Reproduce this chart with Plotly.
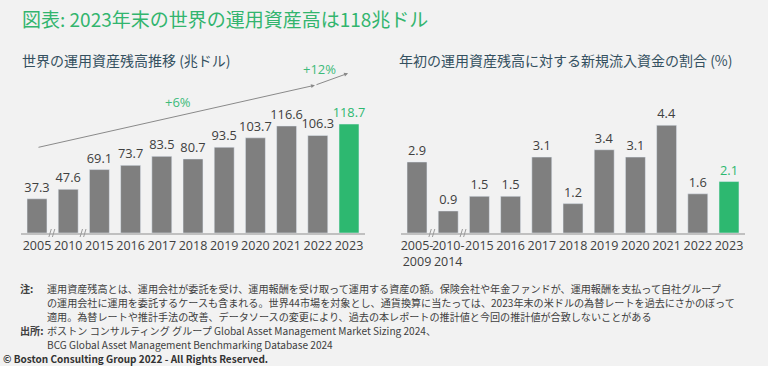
import plotly.graph_objects as go

# ---- data ----
aum_years = ["2005", "2010", "2015", "2016", "2017", "2018", "2019", "2020", "2021", "2022", "2023"]
aum_values = [37.3, 47.6, 69.1, 73.7, 83.5, 80.7, 93.5, 103.7, 116.6, 106.3, 118.7]
flow_periods = ["2005-<br>2009", "2010-<br>2014", "2015", "2016", "2017", "2018", "2019", "2020", "2021", "2022", "2023"]
flow_values = [2.9, 0.9, 1.5, 1.5, 3.1, 1.2, 3.4, 3.1, 4.4, 1.6, 2.1]
growth_labels = ["+6%", "+12%"]

title_text = "図表: 2023年末の世界の運用資産高は118兆ドル"
left_title = "世界の運用資産残高推移 (兆ドル)"
right_title = "年初の運用資産残高に対する新規流入資金の割合 (%)"
note_lines = [
    "運用資産残高とは、運用会社が委託を受け、運用報酬を受け取って運用する資産の額。保険会社や年金ファンドが、運用報酬を支払って自社グループ",
    "の運用会社に運用を委託するケースも含まれる。世界44市場を対象とし、通貨換算に当たっては、2023年末の米ドルの為替レートを過去にさかのぼって",
    "適用。為替レートや推計手法の改善、データソースの変更により、過去の本レポートの推計値と今回の推計値が合致しないことがある",
]
source_lines = [
    "ボストン コンサルティング グループ Global Asset Management Market Sizing 2024、",
    "BCG Global Asset Management Benchmarking Database 2024",
]
copyright_text = "© Boston Consulting Group 2022 - All Rights Reserved."

# ---- style ----
W, H = 768, 366
GRAY = "#7f7f7f"
GREEN = "#2db870"
TXT = "#404040"
BG = "#f2f2f2"
FONT = "Open Sans, Noto Sans CJK JP, sans-serif"
JFONT = "Noto Sans CJK JP, sans-serif"

def px(x):
    return x / W

def py(y):
    return 1 - y / H

colors_aum = [GRAY] * (len(aum_values) - 1) + [GREEN]
colors_flow = [GRAY] * (len(flow_values) - 1) + [GREEN]
tc_aum = [TXT] * (len(aum_values) - 1) + [GREEN]
tc_flow = [TXT] * (len(flow_values) - 1) + [GREEN]

fig = go.Figure()
fig.add_trace(go.Bar(
    x=aum_years, y=aum_values, marker_color=colors_aum,
    text=[f"{v:.1f}" for v in aum_values], textposition="outside", constraintext="none",
    textfont=dict(family=FONT, size=12.8, color=tc_aum), cliponaxis=False,
    xaxis="x", yaxis="y", showlegend=False, hoverinfo="skip",
))
fig.add_trace(go.Bar(
    x=flow_periods, y=flow_values, marker_color=colors_flow,
    text=[f"{v:.1f}" for v in flow_values], textposition="outside", constraintext="none",
    textfont=dict(family=FONT, size=12.8, color=tc_flow), cliponaxis=False,
    xaxis="x2", yaxis="y2", showlegend=False, hoverinfo="skip",
))

ydom = [py(233), py(58.6)]
axis_common = dict(showline=True, linecolor="#c0c0c0", linewidth=2, ticks="", tickangle=0,
                   tickfont=dict(family=FONT, size=12.5, color=TXT), showgrid=False,
                   zeroline=False, fixedrange=True)
fig.update_layout(
    width=W, height=H, margin=dict(l=0, r=0, t=0, b=0),
    paper_bgcolor=BG, plot_bgcolor=BG, bargap=0.36,
    font=dict(family=FONT, color=TXT),
    xaxis=dict(domain=[px(21.4), px(364.6)], anchor="y", type="category", **axis_common),
    yaxis=dict(domain=ydom, range=[0, 190], visible=False, fixedrange=True),
    xaxis2=dict(domain=[px(401.4), px(744.6)], anchor="y2", type="category", **axis_common),
    yaxis2=dict(domain=ydom, range=[0, 7.12], visible=False, fixedrange=True),
)

ann = []
# titles
ann.append(dict(text=title_text, x=px(20), y=py(19), xref="paper", yref="paper",
                xanchor="left", yanchor="middle", showarrow=False,
                font=dict(family=JFONT, size=19, color="#32b56e")))
ann.append(dict(text=left_title, x=px(20), y=py(60), xref="paper", yref="paper",
                xanchor="left", yanchor="middle", showarrow=False,
                font=dict(family=JFONT, size=14, color="#34505f")))
ann.append(dict(text=right_title, x=px(397), y=py(60), xref="paper", yref="paper",
                xanchor="left", yanchor="middle", showarrow=False,
                font=dict(family=JFONT, size=14, color="#34505f")))

# growth arrows (data coordinates of the left chart)
ann.append(dict(x=8.91, y=161, ax=0, ay=93, xref="x", yref="y", axref="x", ayref="y",
                showarrow=True, arrowhead=2, arrowsize=0.8, arrowwidth=1, arrowcolor="#8a8a8a", text=""))
ann.append(dict(x=9.97, y=174, ax=8.91, ay=161, xref="x", yref="y", axref="x", ayref="y",
                showarrow=True, arrowhead=2, arrowsize=0.8, arrowwidth=1, arrowcolor="#8a8a8a", text=""))
ann.append(dict(x=4.52, y=143, xref="x", yref="y", text=growth_labels[0], showarrow=False,
                font=dict(family=FONT, size=13, color="#3dbb7a")))
ann.append(dict(x=9.07, y=178.5, xref="x", yref="y", text=growth_labels[1], showarrow=False,
                font=dict(family=FONT, size=13, color="#3dbb7a")))

# axis break marks "//" as short slanted strokes
shapes = []
slash_dx = 1 / 31.2  # one pixel in category units
for xr in ("x", "x2"):
    for pos in (0.5, 1.5):
        for off in (-2.5, 1.0):
            shapes.append(dict(type="line", xref=xr, yref="paper",
                               x0=pos + (off - 1.2) * slash_dx, x1=pos + (off + 1.2) * slash_dx,
                               y0=py(237), y1=py(229),
                               line=dict(color="#9a9a9a", width=1)))

# footnotes
foot_font = dict(family=JFONT, size=10.1, color=TXT)
def foot(text, x, y, font=foot_font):
    ann.append(dict(text=text, x=px(x), y=py(y), xref="paper", yref="paper",
                    xanchor="left", yanchor="middle", align="left", showarrow=False,
                    borderpad=0, font=font))

foot("<b>注:</b>", 19, 288.5)
for i, line in enumerate(note_lines):
    foot(line, 46, 288.5 + i * 14)
foot("<b>出所:</b>", 19, 330.5)
for i, line in enumerate(source_lines):
    foot(line, 46, 330.5 + i * 14)
foot("<b>" + copyright_text + "</b>", 2, 358.9,
     font=dict(family=JFONT, size=10, color="#333333"))

fig.update_layout(annotations=ann, shapes=shapes)
fig.write_html("out.html", config={"displayModeBar": False},
               post_script="document.body.style.margin='0';")
